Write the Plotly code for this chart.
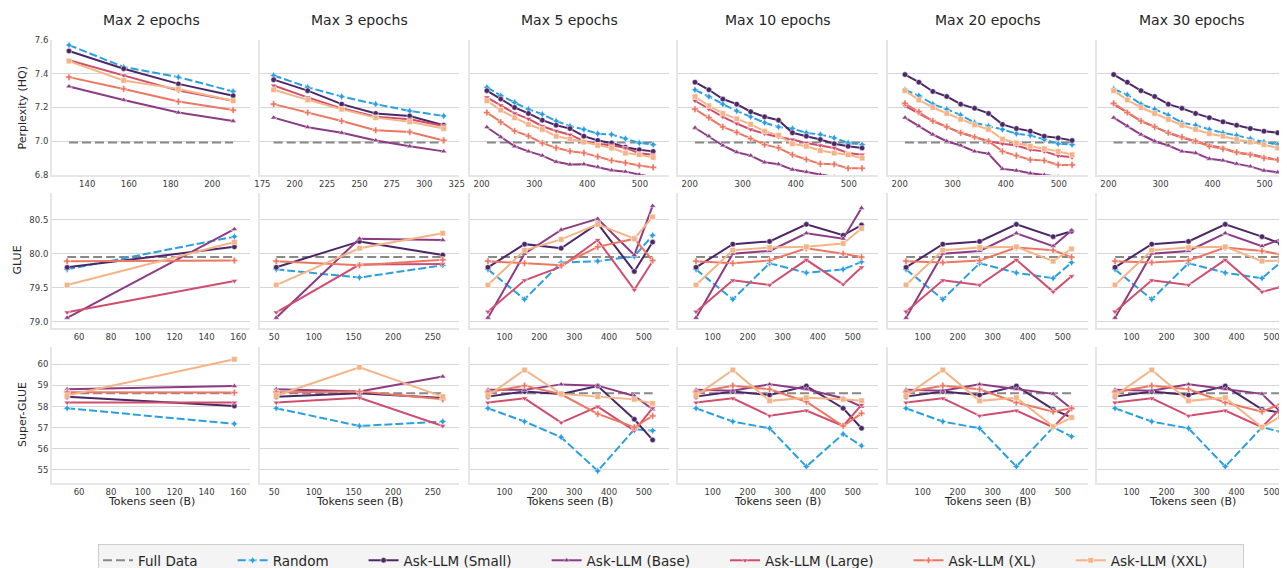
import plotly.graph_objects as go
from plotly.subplots import make_subplots

# ---- data ----
epochs = [2, 3, 5, 10, 20, 30]
names = ["Random", "Ask-LLM (Small)", "Ask-LLM (Base)", "Ask-LLM (Large)", "Ask-LLM (XL)", "Ask-LLM (XXL)"]

tok_long = [210, 236.25, 262.5, 288.75, 315, 341.25, 367.5, 393.75, 420, 446.25, 472.5, 498.75, 525]
ppl_tokens = [
    [131.25, 157.5, 183.75, 210],
    [183.75, 210, 236.25, 262.5, 288.75, 315],
    tok_long, tok_long, tok_long, tok_long,
]
eval_long = [52.5, 157.5, 262.5, 367.5, 472.5, 525]
eval_tokens = [[52.5, 157.5], [52.5, 157.5, 262.5], eval_long, eval_long, eval_long, eval_long]

full_ppl = 6.993
full_glue = 79.95
full_sglue = 58.63

ppl_random = [
    [7.57, 7.44, 7.38, 7.295],
    [7.39, 7.32, 7.265, 7.22, 7.18, 7.15],
    [7.32, 7.27, 7.23, 7.19, 7.16, 7.12, 7.09, 7.07, 7.045, 7.04, 7.015, 6.99, 6.98],
    [7.305, 7.265, 7.22, 7.18, 7.145, 7.11, 7.085, 7.075, 7.05, 7.04, 7.02, 6.99, 6.98],
    [7.305, 7.27, 7.22, 7.19, 7.155, 7.11, 7.09, 7.07, 7.045, 7.035, 7.01, 6.985, 6.98],
    [7.31, 7.275, 7.22, 7.19, 7.155, 7.11, 7.095, 7.07, 7.05, 7.035, 7.015, 6.995, 6.98],
]
ppl_small = [
    [7.535, 7.43, 7.34, 7.27],
    [7.365, 7.30, 7.22, 7.165, 7.15, 7.095],
    [7.30, 7.25, 7.20, 7.165, 7.125, 7.095, 7.075, 7.03, 7.005, 6.99, 6.965, 6.95, 6.94],
    [7.35, 7.305, 7.25, 7.22, 7.175, 7.145, 7.125, 7.05, 7.03, 7.01, 6.985, 6.97, 6.96],
    [7.395, 7.35, 7.295, 7.265, 7.22, 7.195, 7.165, 7.10, 7.075, 7.06, 7.03, 7.02, 7.005],
    [7.395, 7.35, 7.30, 7.265, 7.22, 7.195, 7.165, 7.14, 7.115, 7.095, 7.075, 7.06, 7.05],
]
ppl_base = [
    [7.325, 7.245, 7.17, 7.12],
    [7.14, 7.083, 7.05, 7.005, 6.97, 6.94],
    [7.083, 7.025, 6.97, 6.94, 6.915, 6.878, 6.862, 6.864, 6.848, 6.828, 6.82, 6.802, 6.786],
    [7.08, 7.03, 6.975, 6.935, 6.915, 6.875, 6.864, 6.832, 6.818, 6.802, 6.79, 6.775, 6.76],
    [7.14, 7.09, 7.04, 7.0, 6.975, 6.94, 6.926, 6.836, 6.826, 6.81, 6.80, 6.79, 6.78],
    [7.14, 7.09, 7.04, 7.0, 6.975, 6.94, 6.93, 6.896, 6.886, 6.866, 6.851, 6.826, 6.816],
]
ppl_large = [
    [7.48, 7.39, 7.30, 7.24],
    [7.33, 7.26, 7.195, 7.145, 7.13, 7.09],
    [7.26, 7.213, 7.165, 7.133, 7.089, 7.061, 7.039, 7.001, 6.985, 6.975, 6.961, 6.929, 6.92],
    [7.24, 7.19, 7.145, 7.105, 7.07, 7.045, 7.025, 7.01, 6.99, 6.975, 6.96, 6.93, 6.92],
    [7.21, 7.165, 7.12, 7.085, 7.05, 7.025, 7.0, 6.985, 6.975, 6.95, 6.94, 6.914, 6.905],
    [7.22, 7.17, 7.12, 7.085, 7.05, 7.02, 7.0, 6.975, 6.96, 6.93, 6.925, 6.905, 6.89],
]
ppl_xl = [
    [7.38, 7.31, 7.235, 7.185],
    [7.22, 7.17, 7.12, 7.065, 7.055, 7.005],
    [7.17, 7.113, 7.061, 7.031, 6.989, 6.961, 6.941, 6.931, 6.909, 6.886, 6.872, 6.856, 6.845],
    [7.19, 7.14, 7.085, 7.053, 7.016, 6.98, 6.961, 6.92, 6.892, 6.866, 6.864, 6.84, 6.84],
    [7.225, 7.175, 7.12, 7.085, 7.05, 7.025, 7.0, 6.94, 6.915, 6.89, 6.886, 6.86, 6.86],
    [7.225, 7.17, 7.12, 7.085, 7.05, 7.025, 7.0, 6.97, 6.955, 6.935, 6.92, 6.90, 6.89],
]
ppl_xxl = [
    [7.475, 7.36, 7.31, 7.24],
    [7.305, 7.245, 7.19, 7.14, 7.115, 7.075],
    [7.24, 7.185, 7.14, 7.10, 7.07, 7.03, 7.013, 6.995, 6.975, 6.96, 6.93, 6.92, 6.904],
    [7.265, 7.21, 7.165, 7.133, 7.10, 7.06, 7.035, 6.985, 6.97, 6.945, 6.93, 6.92, 6.90],
    [7.30, 7.245, 7.20, 7.165, 7.13, 7.097, 7.07, 7.013, 6.99, 6.97, 6.955, 6.94, 6.92],
    [7.30, 7.245, 7.20, 7.165, 7.13, 7.095, 7.07, 7.045, 7.03, 7.01, 6.995, 6.98, 6.96],
]

glue_random = [
    [79.77, 80.25], [79.77, 79.65, 79.83],
    [79.77, 79.33, 79.87, 79.89, 79.96, 80.27],
    [79.77, 79.33, 79.86, 79.72, 79.77, 79.88],
    [79.77, 79.33, 79.86, 79.72, 79.64, 79.87],
    [79.77, 79.33, 79.86, 79.72, 79.64, 79.87],
]
glue_small = [
    [79.80, 80.10], [79.80, 80.18, 79.98],
    [79.80, 80.14, 80.08, 80.44, 79.74, 80.17],
    [79.80, 80.14, 80.18, 80.43, 80.27, 80.42],
    [79.80, 80.14, 80.18, 80.43, 80.25, 80.33],
    [79.80, 80.14, 80.18, 80.43, 80.25, 80.15],
]
glue_base = [
    [79.06, 80.36], [79.06, 80.22, 80.20],
    [79.06, 80.00, 80.35, 80.51, 79.98, 80.70],
    [79.06, 80.00, 80.04, 80.30, 80.22, 80.67],
    [79.06, 80.00, 80.04, 80.30, 80.11, 80.34],
    [79.06, 80.00, 80.04, 80.30, 80.11, 80.21],
]
glue_large = [
    [79.14, 79.60], [79.14, 79.84, 79.85],
    [79.15, 79.61, 79.81, 80.20, 79.47, 79.89],
    [79.15, 79.61, 79.54, 79.91, 79.55, 79.80],
    [79.15, 79.61, 79.54, 79.91, 79.44, 79.67],
    [79.15, 79.61, 79.54, 79.91, 79.44, 79.51],
]
glue_xl = [
    [79.89, 79.90], [79.89, 79.83, 79.91],
    [79.89, 79.86, 79.83, 80.10, 80.22, 79.90],
    [79.89, 79.86, 79.90, 80.08, 80.00, 79.95],
    [79.89, 79.87, 79.90, 80.09, 80.05, 79.95],
    [79.89, 79.87, 79.90, 80.09, 80.04, 79.99],
]
glue_xxl = [
    [79.54, 80.17], [79.54, 80.08, 80.30],
    [79.54, 80.05, 80.21, 80.43, 80.22, 80.54],
    [79.54, 80.05, 80.09, 80.10, 80.15, 80.37],
    [79.54, 80.05, 80.09, 80.10, 79.89, 80.07],
    [79.54, 80.05, 80.09, 80.10, 79.89, 79.90],
]

sglue_random = [
    [57.92, 57.18], [57.92, 57.08, 57.29],
    [57.92, 57.29, 56.55, 54.95, 56.92, 56.86],
    [57.92, 57.29, 56.97, 55.16, 56.70, 56.14],
    [57.92, 57.29, 56.97, 55.16, 57.02, 56.58],
    [57.92, 57.29, 56.97, 55.16, 57.02, 56.81],
]
sglue_small = [
    [58.47, 58.03], [58.47, 58.63, 58.40],
    [58.47, 58.71, 58.60, 58.97, 57.40, 56.42],
    [58.47, 58.71, 58.55, 58.97, 57.92, 56.97],
    [58.47, 58.71, 58.55, 58.97, 57.87, 57.48],
    [58.47, 58.71, 58.55, 58.97, 57.87, 57.71],
]
sglue_base = [
    [58.82, 58.97], [58.82, 58.71, 59.42],
    [58.79, 58.79, 59.05, 58.99, 58.50, 57.87],
    [58.79, 58.75, 59.05, 58.82, 58.39, 58.00],
    [58.79, 58.75, 59.05, 58.82, 58.60, 57.90],
    [58.79, 58.75, 59.05, 58.82, 58.60, 57.76],
]
sglue_large = [
    [58.19, 58.19], [58.19, 58.42, 57.08],
    [58.19, 58.39, 57.24, 58.00, 56.86, 57.92],
    [58.19, 58.39, 57.56, 57.81, 57.08, 58.08],
    [58.19, 58.39, 57.56, 57.81, 57.02, 57.92],
    [58.19, 58.39, 57.56, 57.81, 57.02, 57.92],
]
sglue_xl = [
    [58.68, 58.66], [58.68, 58.71, 58.34],
    [58.68, 58.99, 58.58, 57.65, 57.02, 57.56],
    [58.68, 58.99, 58.82, 58.23, 57.08, 57.68],
    [58.68, 58.99, 58.82, 58.19, 57.76, 57.92],
    [58.68, 58.99, 58.82, 58.19, 57.76, 58.11],
]
sglue_xxl = [
    [58.52, 60.24], [58.52, 59.86, 58.47],
    [58.52, 59.73, 58.60, 58.47, 58.34, 58.15],
    [58.52, 59.73, 58.27, 58.42, 58.34, 58.28],
    [58.52, 59.73, 58.27, 58.42, 57.05, 57.48],
    [58.52, 59.73, 58.27, 58.42, 57.02, 57.52],
]

# ---- styles ----
colors = ["#2A9FE0", "#4B2767", "#8C3B84", "#CF4E6E", "#EB7762", "#F4B487"]
symbols = ["star-diamond", "circle", "triangle-up", "triangle-down", "cross", "square"]
dashes = ["8px,3px", "solid", "solid", "solid", "solid", "solid"]
FONT = "DejaVu Sans"
W, H = 1287, 568
OFF = 8  # the page body has an 8px margin, so the figure is drawn that much smaller
FW, FH = W - OFF, H - OFF


def px(X):
    return (X - OFF) / FW


def py(Y):
    return 1 - (Y - OFF) / FH


col_px = [(52, 250), (260, 459), (470, 669), (678, 878), (888, 1088), (1097, 1287)]
row_px = [(40, 175), (193, 328), (347, 483)]
ppl_xrange = [[123.1, 218.1], [173.2, 326.8], [178, 555], [178, 555], [178, 555], [178, 543]]
eval_xrange = [[43, 167.3], [32, 283], [1, 572], [1, 572], [1, 572], [1, 544]]
yranges = [[6.8, 7.6], [78.91, 80.89], [54.38, 60.82]]
ytickvals = [[6.8, 7.0, 7.2, 7.4, 7.6], [79.0, 79.5, 80.0, 80.5], [55, 56, 57, 58, 59, 60]]
yfmt = [".1f", ".1f", "d"]
ppl_xticks = [[140, 160, 180, 200], [175, 200, 225, 250, 275, 300, 325]] + [[200, 300, 400, 500]] * 4
eval_xticks = [[60, 80, 100, 120, 140, 160], [50, 100, 150, 200, 250]] + [[100, 200, 300, 400, 500]] * 4

rows = [
    (ppl_tokens, [ppl_random, ppl_small, ppl_base, ppl_large, ppl_xl, ppl_xxl], full_ppl),
    (eval_tokens, [glue_random, glue_small, glue_base, glue_large, glue_xl, glue_xxl], full_glue),
    (eval_tokens, [sglue_random, sglue_small, sglue_base, sglue_large, sglue_xl, sglue_xxl], full_sglue),
]

fig = make_subplots(rows=3, cols=6)

pad = "\u00a0" * 7
for r, (xs, series, full) in enumerate(rows):
    for c in range(6):
        x = xs[c]
        first = (r == 0 and c == 0)
        fig.add_trace(go.Scatter(
            x=[x[0], x[-1]], y=[full, full], mode="lines",
            line=dict(color="#888888", width=2, dash="9px,4px"),
            name="Full Data" + pad, legendgroup="full", showlegend=first,
        ), row=r + 1, col=c + 1)
        for k in range(6):
            fig.add_trace(go.Scatter(
                x=x, y=series[k][c], mode="lines+markers",
                line=dict(color=colors[k], width=2, dash=dashes[k]),
                marker=dict(symbol=symbols[k], size=5.5, color=colors[k],
                            line=dict(color="white", width=0.5)),
                name=names[k] + pad, legendgroup=names[k], showlegend=first,
            ), row=r + 1, col=c + 1)

for r in range(3):
    for c in range(6):
        x0, x1 = col_px[c]
        y0, y1 = row_px[r]
        xr = ppl_xrange[c] if r == 0 else eval_xrange[c]
        xt = ppl_xticks[c] if r == 0 else eval_xticks[c]
        fig.update_xaxes(domain=[px(x0), min(1, px(x1))], range=xr, tickvals=xt,
                         showgrid=False, zeroline=False, showline=True,
                         linecolor="#e6e6e6", linewidth=2, ticks="",
                         tickfont=dict(family=FONT, size=8.5, color="#3a3a3a"),
                         row=r + 1, col=c + 1)
        fig.update_yaxes(domain=[py(y1), py(y0)], range=yranges[r],
                         tickvals=ytickvals[r], tickformat=yfmt[r], showticklabels=(c == 0),
                         showgrid=True, gridcolor="#d6d6d6", gridwidth=1,
                         zeroline=False, showline=True, linecolor="#e6e6e6",
                         linewidth=2, ticks="",
                         tickfont=dict(family=FONT, size=8.5, color="#3a3a3a"),
                         row=r + 1, col=c + 1)

ann = []
for c in range(6):
    x0, x1 = col_px[c]
    xc = px((x0 + min(x1, x0 + 199)) / 2)
    ann.append(dict(text=f"Max {epochs[c]} epochs", x=xc, y=py(20), xref="paper", yref="paper",
                    xanchor="center", yanchor="middle", showarrow=False,
                    font=dict(family=FONT, size=14, color="#262626")))
    ann.append(dict(text="Tokens seen (B)", x=xc, y=py(501), xref="paper", yref="paper",
                    xanchor="center", yanchor="middle", showarrow=False,
                    font=dict(family=FONT, size=11, color="#262626")))
for label, xp, yc in [("Perplexity (HQ)", 22, 107.5), ("GLUE", 17, 260.5), ("Super-GLUE", 22, 415)]:
    ann.append(dict(text=label, x=px(xp), y=py(yc), xref="paper", yref="paper", textangle=-90,
                    xanchor="center", yanchor="middle", showarrow=False,
                    font=dict(family=FONT, size=11, color="#262626")))

fig.update_layout(
    width=FW, height=FH,
    margin=dict(l=0, r=0, t=0, b=0, autoexpand=False),
    paper_bgcolor="white", plot_bgcolor="white",
    annotations=ann,
    legend=dict(orientation="h", x=px(671), xanchor="center", y=py(544), yanchor="top",
                bgcolor="#f4f4f4", bordercolor="#cccccc", borderwidth=1,
                font=dict(family=FONT, size=13.5, color="#262626"), itemwidth=30),
)

fig.write_html("out.html")
